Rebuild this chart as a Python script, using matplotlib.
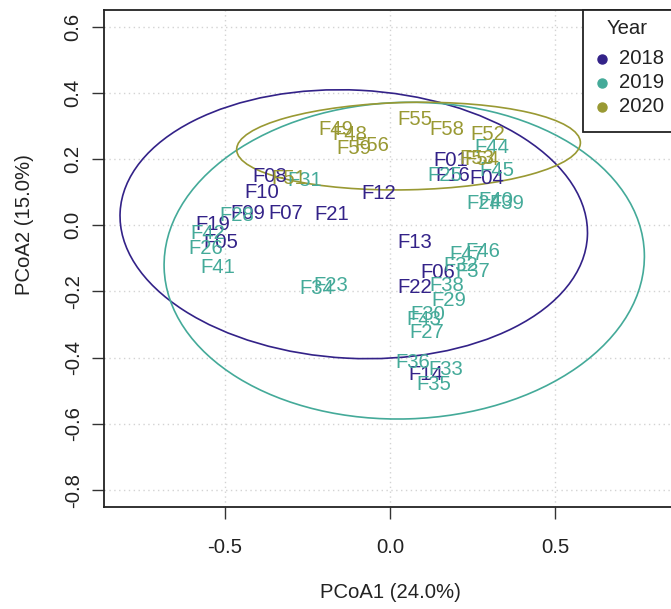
import matplotlib
matplotlib.use("Agg")
import matplotlib.pyplot as plt
from matplotlib.patches import Ellipse, Rectangle
from matplotlib.lines import Line2D

plt.rcParams['font.family'] = ['Liberation Sans', 'DejaVu Sans']

W, H = 671, 609

years = ["2018", "2019", "2020"]
colors = ["#332288", "#44AA99", "#999933"]

labels_2018 = ["F08", "F10", "F09", "F07", "F21", "F12", "F19", "F05", "F01", "F16",
               "F04", "F13", "F06", "F22", "F14"]
x_2018 = [-0.365, -0.388, -0.432, -0.316, -0.177, -0.034, -0.536, -0.514, 0.185, 0.191,
          0.292, 0.075, 0.146, 0.075, 0.107]
y_2018 = [0.146, 0.099, 0.036, 0.036, 0.033, 0.097, 0.001, -0.052, 0.195, 0.150,
          0.140, -0.053, -0.143, -0.189, -0.451]

labels_2019 = ["F31", "F28", "F42", "F26", "F41", "F23", "F34", "F44", "F25", "F45",
               "F40", "F24", "F39", "F46", "F47", "F32", "F37", "F38", "F29", "F30",
               "F43", "F27", "F36", "F33", "F35"]
x_2019 = [-0.259, -0.466, -0.552, -0.559, -0.523, -0.181, -0.223, 0.308, 0.166, 0.323,
          0.321, 0.285, 0.353, 0.282, 0.233, 0.215, 0.250, 0.172, 0.179, 0.114,
          0.101, 0.111, 0.069, 0.168, 0.133]
y_2019 = [0.134, 0.028, -0.026, -0.069, -0.128, -0.181, -0.192, 0.234, 0.150, 0.165,
          0.075, 0.066, 0.066, -0.079, -0.087, -0.122, -0.140, -0.183, -0.228, -0.271,
          -0.286, -0.324, -0.415, -0.437, -0.480]

labels_2020 = ["F49", "F48", "F56", "F59", "F55", "F58", "F52", "F53", "F54", "F51"]
x_2020 = [-0.164, -0.122, -0.054, -0.109, 0.075, 0.172, 0.295, 0.263, 0.279, -0.307]
y_2020 = [0.289, 0.273, 0.242, 0.232, 0.318, 0.289, 0.273, 0.201, 0.198, 0.140]

# ellipses: centre x, centre y, half width, half height, angle (deg)
ell_cx = [-0.110, 0.043, 0.056]
ell_cy = [0.003, -0.107, 0.239]
ell_a = [0.709, 0.728, 0.521]
ell_b = [0.405, 0.478, 0.132]
ell_ang = [-3.0, 1.8, 1.2]

xticks = [-0.5, 0.0, 0.5]
yticks = [-0.8, -0.6, -0.4, -0.2, 0.0, 0.2, 0.4, 0.6]
xlabel = "PCoA1 (24.0%)"
ylabel = "PCoA2 (15.0%)"

fig = plt.figure(figsize=(W / 100, H / 100), dpi=100)
left_px, right_px, top_px, bot_px = 104.3, 675.8, 10.0, 507.0
ax = fig.add_axes([left_px / W, 1 - bot_px / H, (right_px - left_px) / W, (bot_px - top_px) / H])
ax.set_xlim(-0.866, 0.866)
ax.set_ylim(-0.851, 0.650)

fs = 14.6
for v in xticks:
    ax.axvline(v, color="#d3d3d3", lw=1.0, ls=(0, (1, 2.5)), zorder=0)
for v in yticks:
    ax.axhline(v, color="#d3d3d3", lw=1.0, ls=(0, (1, 2.5)), zorder=0)

ax.set_xticks(xticks)
ax.set_xticklabels([f"{v:.1f}" for v in xticks], fontsize=fs, color="#222222")
ax.set_yticks(yticks)
ax.set_yticklabels([f"{v:.1f}" for v in yticks], fontsize=fs, rotation=90, va="center",
                   color="#222222")
ax.tick_params(axis="both", length=8.6, width=1.0, color="#333333")
ax.tick_params(axis="x", pad=14)
ax.tick_params(axis="y", pad=7)
for s in ax.spines.values():
    s.set_linewidth(1.3)
    s.set_color("#222222")

for cx, cy, a, b, ang, c in zip(ell_cx, ell_cy, ell_a, ell_b, ell_ang, colors):
    ax.add_patch(Ellipse((cx, cy), 2 * a, 2 * b, angle=ang, fill=False, ec=c, lw=1.2))

for labs, xs, ys, c in [(labels_2018, x_2018, y_2018, colors[0]),
                        (labels_2019, x_2019, y_2019, colors[1]),
                        (labels_2020, x_2020, y_2020, colors[2])]:
    for l, x, y in zip(labs, xs, ys):
        ax.text(x, y, l, color=c, fontsize=fs, ha="center", va="center")

fig.text(390 / W, 1 - 593 / H, xlabel, fontsize=fs, ha="center", va="center", color="#222222")
fig.text(24 / W, 1 - 225 / H, ylabel, fontsize=fs, ha="center", va="center", rotation=90,
         color="#222222")

# legend box
rect = Rectangle((583 / W, 1 - 132 / H), (680 - 583) / W, (132 - 10) / H,
                 transform=fig.transFigure, fill=True, fc="white", ec="#222222", lw=1.3,
                 zorder=5)
fig.add_artist(rect)
fig.text(627 / W, 1 - 28 / H, "Year", fontsize=fs, ha="center", va="center", zorder=6,
         color="#222222")
for yr, c, py in zip(years, colors, [59, 83, 107]):
    fig.add_artist(Line2D([602 / W], [1 - py / H], marker="o", ms=6.5, color=c, ls="none",
                          transform=fig.transFigure, zorder=6))
    fig.text(619 / W, 1 - py / H, yr, fontsize=fs, ha="left", va="center", zorder=6,
             color="#222222")

fig.savefig("out.png", dpi=100)
